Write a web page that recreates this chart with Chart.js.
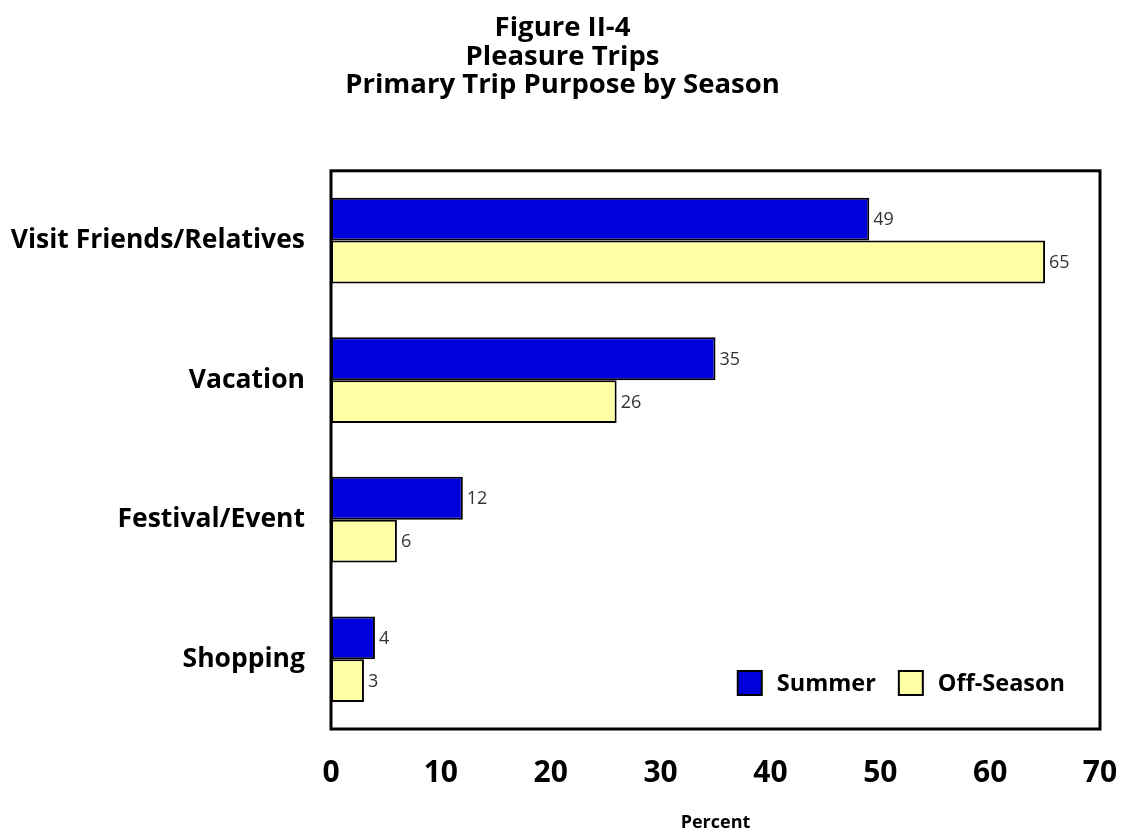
<!DOCTYPE html>
<html>
<head>
<meta charset="utf-8">
<script src="https://cdn.jsdelivr.net/npm/chart.js@4.4.1/dist/chart.umd.min.js"></script>
<style>
  html, body { margin: 0; padding: 0; background: #fff; }
  #wrap { width: 1125px; height: 836px; }
</style>
</head>
<body>
<div id="wrap"><canvas id="tripChart" width="1125" height="836"></canvas></div>
<script>
// chart data
const categories = ['Visit Friends/Relatives', 'Vacation', 'Festival/Event', 'Shopping'];
const summerValues = [49, 35, 12, 4];
const offSeasonValues = [65, 26, 6, 3];
const seriesNames = ['Summer', 'Off-Season'];
const titleLines = ['Figure II-4', 'Pleasure Trips', 'Primary Trip Purpose by Season'];
const axisTitle = 'Percent';

const FONT = '"Open Sans", Lato, sans-serif';

// box around the plot area
const frameBox = {
    id: 'frameBox',
    afterDraw(chart) {
        const a = chart.chartArea;
        const c = chart.ctx;
        c.save();
        c.strokeStyle = '#000';
        c.lineWidth = 3;
        c.strokeRect(a.left, a.top, a.right - a.left, a.bottom - a.top);
        c.restore();
    }
};

// numbers at the end of each bar
const valueLabels = {
    id: 'valueLabels',
    afterDatasetsDraw(chart) {
        const c = chart.ctx;
        c.save();
        c.font = '18px ' + FONT;
        c.fillStyle = '#333';
        c.textAlign = 'left';
        c.textBaseline = 'middle';
        chart.data.datasets.forEach((ds, i) => {
            chart.getDatasetMeta(i).data.forEach((bar, j) => {
                c.fillText(String(ds.data[j]), bar.x + 4, bar.y + 1);
            });
        });
        c.restore();
    }
};

// legend sitting inside the plot, bottom right
const innerLegend = {
    id: 'innerLegend',
    afterDraw(chart) {
        const c = chart.ctx;
        const a = chart.chartArea;
        c.save();
        c.font = 'bold 23.5px ' + FONT;
        c.textBaseline = 'middle';
        const box = 24, gapText = 15, gapItem = 23;
        const widths = chart.data.datasets.map(ds => box + gapText + c.measureText(ds.label).width);
        const total = widths.reduce((s, w) => s + w, 0) + gapItem * (widths.length - 1);
        let x = a.right - 35 - total;
        const y = a.bottom - 46;
        chart.data.datasets.forEach((ds, i) => {
            c.fillStyle = ds.backgroundColor;
            c.fillRect(x, y - box / 2, box, box);
            c.lineWidth = 2;
            c.strokeStyle = '#000';
            c.strokeRect(x, y - box / 2, box, box);
            c.fillStyle = '#000';
            c.fillText(ds.label, x + box + gapText, y + 1);
            x += widths[i] + gapItem;
        });
        c.restore();
    }
};

const ctx = document.getElementById('tripChart').getContext('2d');
const tripChart = new Chart(ctx, {
    type: 'bar',
    data: {
        labels: categories,
        datasets: [{
            label: seriesNames[0],
            data: summerValues,
            backgroundColor: '#0000dd',
            borderColor: '#000',
            borderWidth: 2,
            borderSkipped: false
        }, {
            label: seriesNames[1],
            data: offSeasonValues,
            backgroundColor: '#ffffa6',
            borderColor: '#000',
            borderWidth: 2,
            borderSkipped: false
        }]
    },
    options: {
        indexAxis: 'y',
        responsive: false,
        animation: false,
        layout: { padding: 0 },
        datasets: {
            bar: { categoryPercentage: 0.614, barPercentage: 1.0 }
        },
        plugins: {
            legend: { display: false },
            tooltip: { enabled: false },
            title: {
                display: true,
                text: titleLines,
                color: '#000',
                font: { family: FONT, size: 27.5, weight: 'bold', lineHeight: 1.04 },
                padding: { top: 14, bottom: 71 }
            }
        },
        scales: {
            x: {
                min: 0,
                max: 70,
                grid: { display: false, drawTicks: false },
                border: { display: false },
                ticks: {
                    stepSize: 10,
                    color: '#000',
                    padding: 26,
                    font: { family: FONT, size: 30, weight: 'bold' }
                },
                title: {
                    display: true,
                    text: axisTitle,
                    color: '#000',
                    font: { family: FONT, size: 18, weight: 'bold' },
                    padding: { top: 14, bottom: 2 }
                },
                afterFit(scale) {
                    scale.height = 107;
                    scale.paddingLeft = 0;
                    scale.paddingRight = 25;
                }
            },
            y: {
                grid: { display: false, drawTicks: false },
                border: { display: false },
                ticks: {
                    color: '#000',
                    padding: 26,
                    font: { family: FONT, size: 26.5, weight: 'bold' }
                },
                afterFit(scale) { scale.width = 331; }
            }
        }
    },
    plugins: [frameBox, valueLabels, innerLegend]
});
</script>
</body>
</html>
